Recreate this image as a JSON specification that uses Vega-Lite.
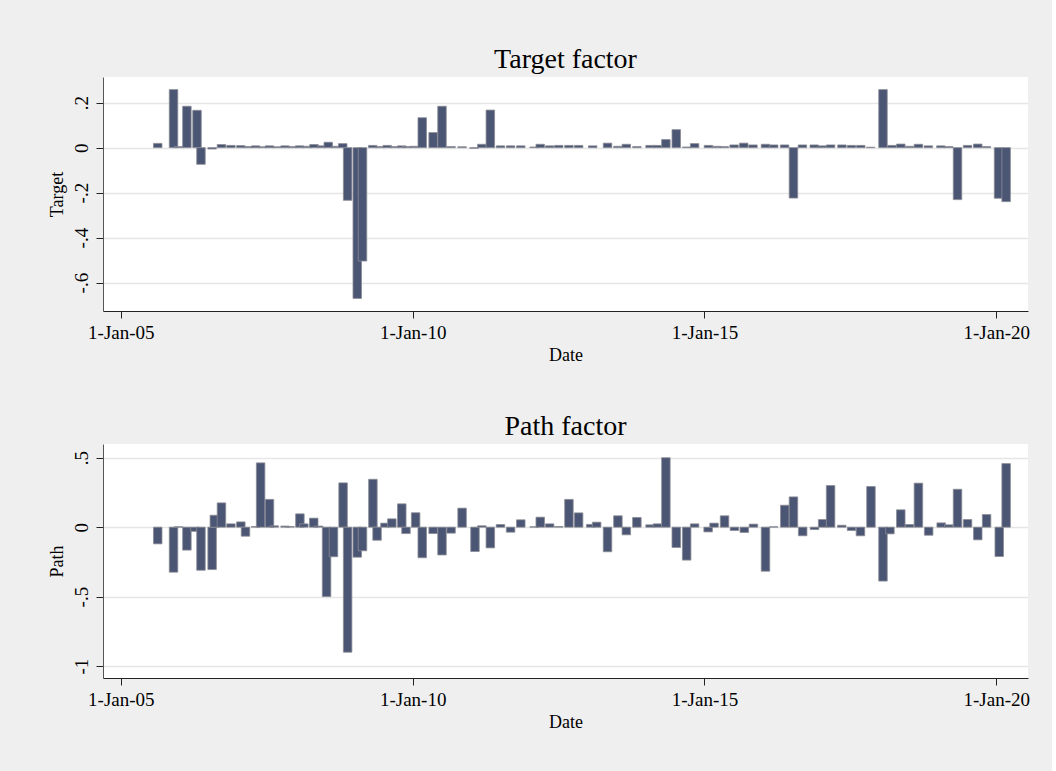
{
  "$schema": "https://vega.github.io/schema/vega-lite/v6.json",
  "background": "#EFEFEF",
  "padding": {"left": 48, "top": 46, "right": 22, "bottom": 40},
  "spacing": 49,
  "config": {
    "font": "Liberation Serif",
    "view": {"fill": "white", "stroke": null},
    "axis": {
      "labelFont": "Liberation Serif",
      "titleFont": "Liberation Serif",
      "labelFontSize": 19,
      "titleFontSize": 18,
      "titleFontWeight": "normal",
      "labelColor": "#000000",
      "titleColor": "#000000",
      "tickColor": "#222222",
      "domainColor": "#333333",
      "tickSize": 7,
      "labelPadding": 5,
      "labelFlush": false,
      "labelBound": false,
      "labelOverlap": false,
      "gridColor": "#E6E6E6",
      "gridWidth": 1.3
    },
    "title": {"font": "Liberation Serif", "fontSize": 28, "fontWeight": "normal", "color": "#000000", "offset": 3}
  },
  "datasets": {
    "target": [
      {"year": 2005.632, "value": 0.019}, {"year": 2005.903, "value": 0.258}, {"year": 2005.992, "value": 0.005},
      {"year": 2006.132, "value": 0.184}, {"year": 2006.305, "value": 0.166}, {"year": 2006.373, "value": -0.074},
      {"year": 2006.564, "value": -0.006}, {"year": 2006.724, "value": 0.014}, {"year": 2006.886, "value": 0.010},
      {"year": 2007.056, "value": 0.009}, {"year": 2007.186, "value": 0.005}, {"year": 2007.310, "value": 0.008},
      {"year": 2007.429, "value": 0.004}, {"year": 2007.547, "value": 0.008}, {"year": 2007.673, "value": 0.004},
      {"year": 2007.814, "value": 0.008}, {"year": 2007.937, "value": 0.005}, {"year": 2008.063, "value": 0.008},
      {"year": 2008.192, "value": 0.006}, {"year": 2008.310, "value": 0.014}, {"year": 2008.436, "value": 0.008},
      {"year": 2008.554, "value": 0.024}, {"year": 2008.678, "value": 0.006}, {"year": 2008.802, "value": 0.018},
      {"year": 2008.886, "value": -0.234}, {"year": 2009.051, "value": -0.670}, {"year": 2009.141, "value": -0.504},
      {"year": 2009.317, "value": 0.010}, {"year": 2009.441, "value": 0.005}, {"year": 2009.564, "value": 0.010},
      {"year": 2009.690, "value": 0.005}, {"year": 2009.814, "value": 0.008}, {"year": 2009.898, "value": 0.005},
      {"year": 2010.029, "value": 0.006}, {"year": 2010.164, "value": 0.133}, {"year": 2010.351, "value": 0.067},
      {"year": 2010.503, "value": 0.184}, {"year": 2010.658, "value": 0.005}, {"year": 2010.847, "value": 0.004},
      {"year": 2011.051, "value": -0.003}, {"year": 2011.186, "value": 0.015}, {"year": 2011.331, "value": 0.167},
      {"year": 2011.505, "value": 0.008}, {"year": 2011.678, "value": 0.008}, {"year": 2011.853, "value": 0.008},
      {"year": 2012.081, "value": 0.003}, {"year": 2012.186, "value": 0.015}, {"year": 2012.347, "value": 0.008},
      {"year": 2012.503, "value": 0.010}, {"year": 2012.678, "value": 0.010}, {"year": 2012.844, "value": 0.010},
      {"year": 2013.085, "value": 0.008}, {"year": 2013.339, "value": 0.020}, {"year": 2013.517, "value": 0.006},
      {"year": 2013.661, "value": 0.015}, {"year": 2013.842, "value": 0.005}, {"year": 2014.068, "value": 0.010},
      {"year": 2014.195, "value": 0.010}, {"year": 2014.339, "value": 0.036}, {"year": 2014.517, "value": 0.080},
      {"year": 2014.695, "value": 0.003}, {"year": 2014.831, "value": 0.018}, {"year": 2015.068, "value": 0.010},
      {"year": 2015.203, "value": 0.006}, {"year": 2015.339, "value": 0.005}, {"year": 2015.508, "value": 0.012},
      {"year": 2015.673, "value": 0.020}, {"year": 2015.831, "value": 0.012}, {"year": 2016.046, "value": 0.015},
      {"year": 2016.186, "value": 0.012}, {"year": 2016.373, "value": 0.012}, {"year": 2016.525, "value": -0.224},
      {"year": 2016.678, "value": 0.012}, {"year": 2016.881, "value": 0.012}, {"year": 2017.017, "value": 0.008},
      {"year": 2017.161, "value": 0.012}, {"year": 2017.356, "value": 0.012}, {"year": 2017.520, "value": 0.010},
      {"year": 2017.678, "value": 0.010}, {"year": 2017.847, "value": 0.002}, {"year": 2018.059, "value": 0.258},
      {"year": 2018.212, "value": 0.010}, {"year": 2018.364, "value": 0.016}, {"year": 2018.514, "value": 0.006},
      {"year": 2018.666, "value": 0.015}, {"year": 2018.836, "value": 0.008}, {"year": 2019.051, "value": 0.008},
      {"year": 2019.186, "value": 0.005}, {"year": 2019.336, "value": -0.231}, {"year": 2019.508, "value": 0.010},
      {"year": 2019.683, "value": 0.016}, {"year": 2019.831, "value": 0.005}, {"year": 2020.039, "value": -0.225},
      {"year": 2020.169, "value": -0.240}
    ],
    "path": [
      {"year": 2005.632, "value": -0.120}, {"year": 2005.903, "value": -0.324}, {"year": 2005.992, "value": 0.003},
      {"year": 2006.132, "value": -0.165}, {"year": 2006.271, "value": -0.030}, {"year": 2006.373, "value": -0.310},
      {"year": 2006.564, "value": -0.305}, {"year": 2006.602, "value": 0.086}, {"year": 2006.724, "value": 0.175},
      {"year": 2006.886, "value": 0.024}, {"year": 2007.056, "value": 0.038}, {"year": 2007.136, "value": -0.065},
      {"year": 2007.310, "value": 0.005}, {"year": 2007.395, "value": 0.463}, {"year": 2007.547, "value": 0.200},
      {"year": 2007.627, "value": 0.010}, {"year": 2007.814, "value": 0.008}, {"year": 2007.898, "value": 0.005},
      {"year": 2008.068, "value": 0.096}, {"year": 2008.136, "value": 0.024}, {"year": 2008.305, "value": 0.065},
      {"year": 2008.390, "value": 0.008}, {"year": 2008.525, "value": -0.500}, {"year": 2008.644, "value": -0.213},
      {"year": 2008.808, "value": 0.319}, {"year": 2008.886, "value": -0.900}, {"year": 2009.051, "value": -0.216},
      {"year": 2009.141, "value": -0.170}, {"year": 2009.319, "value": 0.345}, {"year": 2009.390, "value": -0.094},
      {"year": 2009.525, "value": 0.029}, {"year": 2009.644, "value": 0.060}, {"year": 2009.814, "value": 0.168},
      {"year": 2009.886, "value": -0.046}, {"year": 2010.051, "value": 0.104}, {"year": 2010.164, "value": -0.220},
      {"year": 2010.351, "value": -0.046}, {"year": 2010.503, "value": -0.200}, {"year": 2010.658, "value": -0.043},
      {"year": 2010.847, "value": 0.137}, {"year": 2011.068, "value": -0.175}, {"year": 2011.186, "value": 0.010},
      {"year": 2011.331, "value": -0.149}, {"year": 2011.505, "value": 0.019}, {"year": 2011.678, "value": -0.036},
      {"year": 2011.853, "value": 0.053}, {"year": 2012.081, "value": 0.003}, {"year": 2012.186, "value": 0.072},
      {"year": 2012.347, "value": 0.024}, {"year": 2012.503, "value": 0.005}, {"year": 2012.678, "value": 0.200},
      {"year": 2012.844, "value": 0.103}, {"year": 2013.051, "value": 0.020}, {"year": 2013.153, "value": 0.036},
      {"year": 2013.339, "value": -0.177}, {"year": 2013.517, "value": 0.082}, {"year": 2013.661, "value": -0.055},
      {"year": 2013.842, "value": 0.070}, {"year": 2014.068, "value": 0.017}, {"year": 2014.195, "value": 0.024},
      {"year": 2014.339, "value": 0.500}, {"year": 2014.517, "value": -0.146}, {"year": 2014.695, "value": -0.237},
      {"year": 2014.831, "value": 0.024}, {"year": 2015.063, "value": -0.034}, {"year": 2015.164, "value": 0.029},
      {"year": 2015.344, "value": 0.082}, {"year": 2015.514, "value": -0.024}, {"year": 2015.683, "value": -0.038},
      {"year": 2015.839, "value": 0.022}, {"year": 2016.046, "value": -0.317}, {"year": 2016.186, "value": 0.003},
      {"year": 2016.376, "value": 0.158}, {"year": 2016.525, "value": 0.218}, {"year": 2016.683, "value": -0.062},
      {"year": 2016.886, "value": -0.017}, {"year": 2017.025, "value": 0.055}, {"year": 2017.161, "value": 0.300},
      {"year": 2017.353, "value": 0.014}, {"year": 2017.520, "value": -0.024}, {"year": 2017.673, "value": -0.062},
      {"year": 2017.853, "value": 0.293}, {"year": 2018.059, "value": -0.388}, {"year": 2018.178, "value": -0.048},
      {"year": 2018.364, "value": 0.125}, {"year": 2018.514, "value": 0.019}, {"year": 2018.666, "value": 0.317},
      {"year": 2018.842, "value": -0.058}, {"year": 2019.056, "value": 0.031}, {"year": 2019.186, "value": 0.017},
      {"year": 2019.336, "value": 0.273}, {"year": 2019.508, "value": 0.055}, {"year": 2019.683, "value": -0.091},
      {"year": 2019.834, "value": 0.091}, {"year": 2020.051, "value": -0.211}, {"year": 2020.169, "value": 0.458}
    ]
  },
  "vconcat": [
    {
      "width": 925,
      "height": 234,
      "title": {"text": "Target factor"},
      "data": {"name": "target"},
      "mark": {"type": "bar", "width": 8.5, "color": "#4B5675", "stroke": "#8A8C94", "strokeWidth": 0.8},
      "encoding": {
        "x": {
          "field": "year", "type": "quantitative",
          "scale": {"domain": [2004.78, 2020.458], "nice": false, "zero": false},
          "axis": {"title": "Date", "values": [2005, 2010, 2015, 2020], "grid": false, "domainColor": "#222222",
                   "labelExpr": "'1-Jan-' + substring(toString(datum.value), 2, 4)", "titlePadding": 4}
        },
        "y": {
          "field": "value", "type": "quantitative",
          "scale": {"domain": [-0.726, 0.314], "nice": false, "zero": false},
          "axis": {"title": "Target", "values": [-0.6, -0.4, -0.2, 0, 0.2], "labelAngle": -90,
                   "labelAlign": "center", "labelBaseline": "bottom", "titlePadding": 6, "domainColor": "#555555",
                   "labelExpr": "datum.value == 0 ? '0' : (datum.value < 0 ? '-' : '') + (abs(datum.value) < 1 ? '.' + round(abs(datum.value) * 10) : toString(abs(datum.value)))"}
        }
      }
    },
    {
      "width": 925,
      "height": 234,
      "title": {"text": "Path factor"},
      "data": {"name": "path"},
      "mark": {"type": "bar", "width": 8.5, "color": "#4B5675", "stroke": "#8A8C94", "strokeWidth": 0.8},
      "encoding": {
        "x": {
          "field": "year", "type": "quantitative",
          "scale": {"domain": [2004.78, 2020.458], "nice": false, "zero": false},
          "axis": {"title": "Date", "values": [2005, 2010, 2015, 2020], "grid": false, "domainColor": "#222222",
                   "labelExpr": "'1-Jan-' + substring(toString(datum.value), 2, 4)", "titlePadding": 4}
        },
        "y": {
          "field": "value", "type": "quantitative",
          "scale": {"domain": [-1.086, 0.599], "nice": false, "zero": false},
          "axis": {"title": "Path", "values": [-1, -0.5, 0, 0.5], "labelAngle": -90,
                   "labelAlign": "center", "labelBaseline": "bottom", "titlePadding": 6, "domainColor": "#555555",
                   "labelExpr": "datum.value == 0 ? '0' : (datum.value < 0 ? '-' : '') + (abs(datum.value) < 1 ? '.' + round(abs(datum.value) * 10) : toString(abs(datum.value)))"}
        }
      }
    }
  ]
}
